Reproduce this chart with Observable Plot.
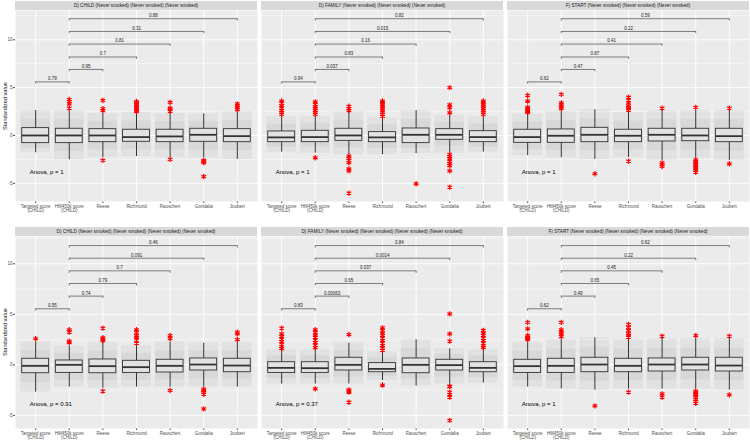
<!DOCTYPE html>
<html><head><meta charset="utf-8">
<script src="https://cdn.jsdelivr.net/npm/d3@7"></script>
<script src="https://cdn.jsdelivr.net/npm/@observablehq/plot@0.6"></script>
<style>
body{margin:0;background:#fff;font-family:"Liberation Sans",Arial,sans-serif;}
#root{position:relative;width:750px;height:441px;overflow:hidden;background:#fff}
.strip{position:absolute;background:#D9D9D9;color:#1A1A1A;font-size:4.7px;line-height:9px;text-align:center;white-space:nowrap;overflow:hidden}
.ytitle{position:absolute;width:120px;height:8px;line-height:8px;text-align:center;font-size:5.6px;color:#1A1A1A;transform:translate(-50%,-50%) rotate(-90deg);white-space:nowrap}
.panel{position:absolute}
.panel svg{overflow:visible}
</style></head><body><div id="root"></div>
<script>
const categories = ["Targeted score\n(CHILD)", "HM450k score\n(CHILD)", "Reese", "Richmond", "Rauschert", "Gondalia", "Joubert"];
const yMajor = [-5, 0, 5, 10];
const yMinor = [-7.5, -2.5, 2.5, 7.5, 12.5];
const comparisons = [[0, 1], [1, 2], [1, 3], [1, 4], [1, 5], [1, 6]];

const stripTop = ["D) CHILD (Never smoked) (Never smoked) (Never smoked)", "D) FAMILY (Never smoked) (Never smoked) (Never smoked)", "F) START (Never smoked) (Never smoked) (Never smoked)"];
const stripBottom = ["D) CHILD (Never smoked) (Never smoked) (Never smoked) (Never smoked)", "D) FAMILY (Never smoked) (Never smoked) (Never smoked) (Never smoked)", "F) START (Never smoked) (Never smoked) (Never smoked) (Never smoked)"];

// box stats per category: [lower whisker, Q1, median, Q3, upper whisker]
const statsChildTop = [[-1.8,-0.80,0.00,0.77,2.6],[-2.55,-0.80,0.00,0.70,2.6],[-2.3,-0.70,0.00,0.66,2.3],[-2.2,-0.66,-0.17,0.60,2.4],[-2.3,-0.70,-0.10,0.60,2.3],[-2.35,-0.66,0.07,0.70,2.26],[-2.5,-0.70,-0.07,0.66,2.5]];
const outChildTop = [[],[3.76,3.55,3.3,2.86],[3.66,2.8,2.6,-2.6],[3.55,3.4,3.25,3.1,2.95,2.8,2.65,2.5],[3.45,2.85,2.7,2.55,-2.5],[-2.6,-2.7,-2.85,-4.29],[3.3,3.1,2.9,2.7]];
const statsFamilyTop = [[-1.74,-0.70,-0.20,0.42,1.95],[-1.85,-0.70,-0.17,0.49,1.95],[-2.0,-0.56,0.00,0.70,2.5],[-2.0,-0.70,-0.20,0.35,1.85],[-1.9,-0.80,0.07,0.73,2.6],[-1.85,-0.45,0.07,0.66,2.1],[-1.74,-0.70,-0.17,0.45,1.95]];
const outFamilyTop = [[3.6,3.35,3.1,2.85,2.6,2.4,2.2],[3.5,3.25,3.0,2.8,2.6,2.4,2.2,-2.33],[3.05,2.8,2.6,-2.15,-2.4,-2.6,-2.85,-3.5,-3.7,-6.03],[3.6,3.4,3.2,3.0,2.8,2.6,2.4,2.2,2.0],[-5.05],[5.0,3.2,2.9,2.37,-2.0,-2.2,-2.45,-2.7,-2.95,-3.15,-3.7,-5.4],[3.6,3.4,3.2,3.0,2.8,2.6,2.4,2.2]];
const statsStartTop = [[-2.1,-0.77,-0.17,0.60,2.2],[-2.33,-0.77,-0.03,0.63,2.5],[-2.5,-0.70,0.07,0.80,2.68],[-2.3,-0.70,-0.03,0.60,2.4],[-2.6,-0.63,0.07,0.70,2.6],[-2.4,-0.60,0.00,0.70,2.6],[-2.6,-0.70,-0.07,0.70,2.6]];
const outStartTop = [[4.2,3.6,2.95,2.8,2.65,2.5,2.4],[4.3,3.4,3.2,3.0,2.8],[-4.0],[4.0,3.7,3.4,3.1,2.95,2.8,2.65,-2.68],[2.86,-2.86,-3.05,-3.24],[2.93,-2.55,-2.7,-2.85,-3.0,-3.15,-3.3,-3.5,-3.65,-3.83],[2.86,-2.96]];

const statsChildBottom = [[-2.7,-0.83,-0.10,0.60,2.25],[-2.2,-0.80,0.00,0.43,1.85],[-2.3,-0.83,-0.13,0.53,2.2],[-2.2,-0.80,-0.23,0.40,1.9],[-2.2,-0.76,-0.10,0.50,2.25],[-2.2,-0.56,0.03,0.63,2.15],[-2.2,-0.73,-0.07,0.60,2.2]];
const outChildBottom = [[2.58],[3.47,3.24,2.35,2.2],[3.63,2.68,2.55,2.4,-2.6],[3.47,3.2,2.9,2.75,2.45,2.15],[2.9,2.6,-2.54],[-2.4,-2.55,-2.7,-2.9,-4.36],[3.24,3.07,2.5]];
const statsFamilyBottom = [[-1.9,-0.80,-0.30,0.26,1.5],[-1.9,-0.80,-0.33,0.26,1.5],[-1.9,-0.56,0.00,0.70,2.15],[-1.55,-0.73,-0.40,0.17,1.3],[-2.1,-0.83,0.00,0.63,2.48],[-1.9,-0.56,-0.03,0.50,1.58],[-1.8,-0.73,-0.30,0.26,1.5]];
const outFamilyBottom = [[3.63,3.07,2.8,2.55,2.3,2.05,1.8,1.6],[3.47,3.2,2.95,2.7,2.45,2.2,1.95,1.7,-2.38],[3.0,-2.48,-2.6,-2.7,-3.7],[3.66,3.4,3.15,2.9,2.65,2.4,2.15,1.9,1.65,1.45,-2.0],[],[5.05,3.07,2.35,-2.1,-2.15,-2.7,-2.95,-3.2,-5.5],[3.4,3.15,2.9,2.65,2.4,2.15,1.9,1.7]];
const statsStartBottom = [[-2.2,-0.80,-0.13,0.50,2.2],[-2.38,-0.80,-0.10,0.60,2.5],[-2.5,-0.73,0.03,0.70,2.68],[-2.4,-0.73,-0.10,0.60,2.5],[-2.4,-0.66,0.03,0.63,2.6],[-2.4,-0.56,0.03,0.70,2.6],[-2.5,-0.66,-0.07,0.70,2.6]];
const outStartBottom = [[4.2,3.56,2.9,2.75,2.6,2.5],[4.2,3.47,3.25,3.05,2.8],[-4.06],[4.0,3.7,3.4,3.1,2.95,2.74,-2.7],[2.84,-2.87,-3.2],[2.9,-2.6,-2.75,-2.9,-3.05,-3.2,-3.4,-3.6,-3.8],[2.84,-2.97]];

// bracket heights and p-value labels
const bracketYTop = [5.6, 6.9, 8.2, 9.55, 10.87, 12.2];
const bracketYBottom = [5.55, 6.8, 8.05, 9.3, 10.55, 11.8];
const pChildTop = ["0.79","0.95","0.7","0.81","0.31","0.88"];
const pFamilyTop = ["0.94","0.037","0.83","0.16","0.015","0.82"];
const pStartTop = ["0.62","0.47","0.87","0.41","0.22","0.59"];
const pChildBottom = ["0.95","0.74","0.79","0.7","0.091","0.46"];
const pFamilyBottom = ["0.83","0.00063","0.65","0.037","0.0014","0.84"];
const pStartBottom = ["0.62","0.49","0.65","0.45","0.22","0.62"];
const anovaTop = ["Anova, p = 1","Anova, p = 1","Anova, p = 1"];
const anovaBottom = ["Anova, p = 0.91","Anova, p = 0.37","Anova, p = 1"];
const anovaY = -3.85;

const domainTop = [-6.9, 13.06];
const domainBottom = [-6.3, 12.7];

const FONT = "'Liberation Sans', Arial, Helvetica, sans-serif";
const idx = categories.map((_, i) => i);
const HALF = 0.4, CLOUD = 0.44, TIP = 0.25;

function panel({stats, outliers, pvals, bracketY, anova, domain, width, marginLeft, height, marginBottom, yAxis}) {
  const boxes = stats.map((s, i) => ({i, lo: s[0], q1: s[1], med: s[2], q3: s[3], hi: s[4]}));
  const outs = outliers.flatMap((arr, i) => arr.map(v => ({i, v})));
  const brackets = comparisons.map((p, k) => ({a: p[0], b: p[1], y: bracketY[k], label: pvals[k]}));
  const tips = brackets.flatMap(b => [{x: b.a, y: b.y}, {x: b.b, y: b.y}]);
  const minor = yMinor.filter(v => v > domain[0] && v < domain[1]);
  return Plot.plot({
    width, height, marginLeft, marginRight: 0, marginTop: 0, marginBottom,
    style: {fontFamily: FONT, fontSize: "4.5px", background: "transparent", color: "#4D4D4D", overflow: "visible"},
    x: {type: "linear", domain: [-0.6, 6.6], ticks: idx, tickFormat: i => categories[i], tickSize: 2, tickPadding: 1, label: null},
    y: {domain, ticks: yMajor, tickFormat: d => String(d), tickSize: 2, tickPadding: 1, label: null, axis: yAxis ? "left" : null},
    marks: [
      Plot.frame({fill: "#EBEBEB", stroke: "none"}),
      Plot.ruleY(minor, {stroke: "white", strokeWidth: 0.45}),
      Plot.ruleY(yMajor, {stroke: "white", strokeWidth: 0.9}),
      Plot.ruleX(idx, {stroke: "white", strokeWidth: 0.9}),
      Plot.rect(boxes, {x1: d => d.i - HALF, x2: d => d.i + HALF, y1: "q1", y2: "q3", fill: "#F7F7F7"}),
      Plot.rect(boxes, {x1: d => d.i - CLOUD, x2: d => d.i + CLOUD, y1: "lo", y2: "hi", fill: "#6a6a6a", fillOpacity: 0.07}),
      Plot.rect(boxes, {x1: d => d.i - CLOUD, x2: d => d.i + CLOUD, y1: d => (d.lo + d.q1) / 2, y2: d => (d.hi + d.q3) / 2, fill: "#6a6a6a", fillOpacity: 0.07}),
      Plot.ruleX(boxes, {x: "i", y1: "lo", y2: "q1", stroke: "#333", strokeWidth: 1}),
      Plot.ruleX(boxes, {x: "i", y1: "q3", y2: "hi", stroke: "#333", strokeWidth: 1}),
      Plot.rect(boxes, {x1: d => d.i - HALF, x2: d => d.i + HALF, y1: "q1", y2: "q3", fill: "none", stroke: "#333", strokeWidth: 0.9}),
      Plot.ruleY(boxes, {y: "med", x1: d => d.i - HALF, x2: d => d.i + HALF, stroke: "#333", strokeWidth: 1.8}),
      Plot.dot(outs, {x: "i", y: "v", symbol: "asterisk", stroke: "red", r: 2.5, strokeWidth: 1.2}),
      Plot.link(brackets, {x1: "a", x2: "b", y1: "y", y2: "y", stroke: "#333", strokeWidth: 0.6}),
      Plot.ruleX(tips, {x: "x", y1: "y", y2: d => d.y - TIP, stroke: "#333", strokeWidth: 0.6}),
      Plot.text(brackets, {x: d => (d.a + d.b) / 2, y: "y", text: "label", dy: -1.6, lineAnchor: "bottom", fontSize: 4.5, fill: "#1A1A1A"}),
      Plot.text([anova], {x: () => 0, y: () => anovaY, text: d => d, dx: -6, textAnchor: "start", fontSize: 6, fill: "#000"})
    ]
  });
}

const root = document.getElementById("root");
const colLeft = [15, 261, 507];
const PW = 242;
const rows = [
  {panelTop: 10, panelH: 191, mb: 18, stripY: 1, domain: domainTop, bracketY: bracketYTop, strips: stripTop, anova: anovaTop,
   data: [[statsChildTop, outChildTop, pChildTop], [statsFamilyTop, outFamilyTop, pFamilyTop], [statsStartTop, outStartTop, pStartTop]]},
  {panelTop: 236, panelH: 192, mb: 13, stripY: 227, domain: domainBottom, bracketY: bracketYBottom, strips: stripBottom, anova: anovaBottom,
   data: [[statsChildBottom, outChildBottom, pChildBottom], [statsFamilyBottom, outFamilyBottom, pFamilyBottom], [statsStartBottom, outStartBottom, pStartBottom]]}
];

rows.forEach(row => {
  row.data.forEach(([stats, outliers, pvals], c) => {
    const ml = c === 0 ? colLeft[0] : 0;
    const chart = panel({stats, outliers, pvals, bracketY: row.bracketY, anova: row.anova[c], domain: row.domain,
      width: PW + ml, marginLeft: ml, height: row.panelH + row.mb, marginBottom: row.mb, yAxis: c === 0});
    const wrap = document.createElement("div");
    wrap.className = "panel";
    wrap.style.left = (colLeft[c] - ml) + "px";
    wrap.style.top = row.panelTop + "px";
    wrap.appendChild(chart);
    root.appendChild(wrap);
    const s = document.createElement("div");
    s.className = "strip";
    s.style.left = colLeft[c] + "px";
    s.style.top = row.stripY + "px";
    s.style.width = PW + "px";
    s.style.height = (row.panelTop - row.stripY) + "px";
    s.style.lineHeight = (row.panelTop - row.stripY) + "px";
    s.textContent = row.strips[c];
    root.appendChild(s);
  });
  const t = document.createElement("div");
  t.className = "ytitle";
  t.style.left = "5px";
  t.style.top = (row.panelTop + row.panelH / 2) + "px";
  t.textContent = "Standardized value";
  root.appendChild(t);
});
</script>
</body></html>
